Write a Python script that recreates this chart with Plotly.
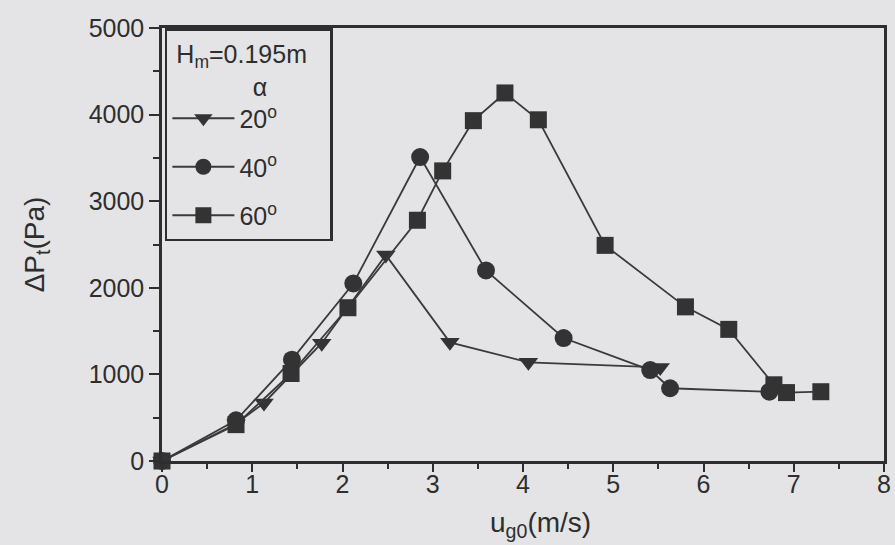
import plotly.graph_objects as go

# ---- data ----
u_20 = [0, 0.82, 1.13, 1.77, 2.48, 3.19, 4.06, 5.52]
dp_20 = [0, 430, 670, 1360, 2380, 1370, 1140, 1080]

u_40 = [0, 0.82, 1.44, 2.12, 2.86, 3.59, 4.45, 5.41, 5.63, 6.73]
dp_40 = [0, 470, 1170, 2050, 3510, 2200, 1420, 1050, 840, 800]

u_60 = [0, 0.82, 1.43, 2.06, 2.83, 3.11, 3.45, 3.80, 4.17, 4.91, 5.80, 6.28, 6.78, 6.92, 7.30]
dp_60 = [0, 420, 1010, 1770, 2780, 3350, 3930, 4250, 3940, 2490, 1780, 1520, 880, 790, 800]

series_names = ["20<sup>o</sup>", "40<sup>o</sup>", "60<sup>o</sup>"]
x_ticks = [0, 1, 2, 3, 4, 5, 6, 7, 8]
y_ticks = [0, 1000, 2000, 3000, 4000, 5000]

FONT = "Arial, 'Liberation Sans', sans-serif"
INK = "#2e2e2e"
BG = "#e4e4e6"
NB = "\u00a0"

fig = go.Figure()
specs = [
    (u_20, dp_20, series_names[0], "triangle-down", 17),
    (u_40, dp_40, series_names[1], "circle", 18),
    (u_60, dp_60, series_names[2], "square", 17),
]
for i, (xs, ys, name, sym, sz) in enumerate(specs):
    fig.add_trace(go.Scatter(
        x=xs, y=ys, name=name, mode="lines+markers",
        legendgroup=f"g{i}",
        line=dict(color="#3a3a3a", width=1.8),
        marker=dict(symbol=sym, size=sz, color="#333333", line=dict(width=0)),
        cliponaxis=False,
    ))

fig.update_layout(
    width=895, height=545,
    margin=dict(l=162, r=4, t=28, b=84),
    paper_bgcolor=BG, plot_bgcolor=BG,
    font=dict(family=FONT, size=25, color=INK),
    showlegend=True,
    legend=dict(
        x=0.004, y=1.0, xanchor="left", yanchor="top",
        bgcolor=BG, bordercolor=INK, borderwidth=2.5,
        font=dict(size=25, color=INK),
        title=dict(text=NB + "H<sub>m</sub>=0.195m" + NB * 3 + "<br>" + NB * 12 + "α",
                   font=dict(size=25, color=INK)),
        itemwidth=62,
        tracegroupgap=13,
    ),
    xaxis=dict(
        range=[0, 8], tickvals=x_ticks, ticktext=[str(v) for v in x_ticks],
        ticks="outside", ticklen=8, tickwidth=2, tickcolor=INK,
        minor=dict(dtick=0.5, ticks="outside", ticklen=5, tickwidth=2, tickcolor=INK),
        showline=True, linecolor=INK, linewidth=2.5, mirror=True,
        showgrid=False, zeroline=False,
        tickfont=dict(size=25, color=INK),
        ticklabelstandoff=-9,
    ),
    yaxis=dict(
        range=[0, 5000], tickvals=y_ticks, ticktext=[str(v) for v in y_ticks],
        ticks="outside", ticklen=10, tickwidth=2, tickcolor=INK,
        minor=dict(dtick=500, ticks="outside", ticklen=6, tickwidth=2, tickcolor=INK),
        showline=True, linecolor=INK, linewidth=2.5, mirror=True,
        showgrid=False, zeroline=False,
        tickfont=dict(size=25, color=INK),
        title=dict(text="ΔP<sub>t</sub>(Pa)", font=dict(size=28, color=INK), standoff=36),
    ),
    annotations=[dict(
        text="u<sub>g0</sub>(m/s)", xref="paper", yref="paper", x=0.5, y=0,
        xanchor="center", yanchor="top", xshift=17, yshift=-44,
        showarrow=False, font=dict(size=28, color=INK),
    )],
)

fig.write_html("out.html")
